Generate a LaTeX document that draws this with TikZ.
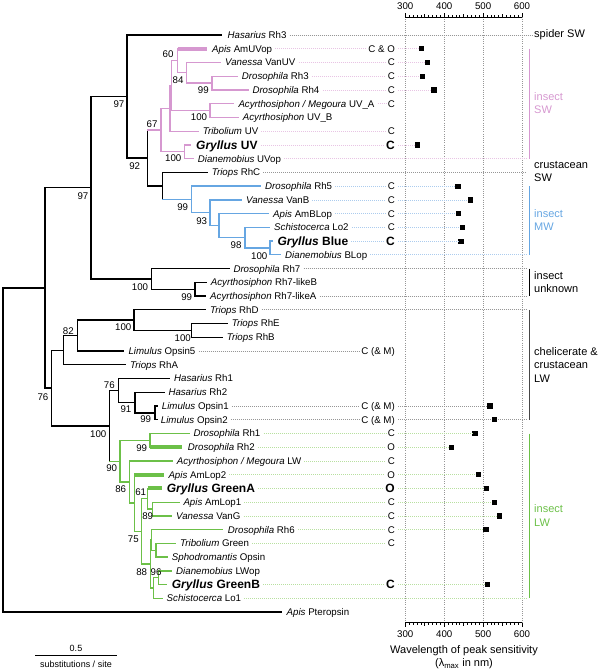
\documentclass[tikz,border=0pt]{standalone}
\usepackage{fontspec}
\setmainfont{Liberation Sans}
\definecolor{pinkC}{RGB}{214,152,208}
\definecolor{pinkL}{RGB}{232,196,228}
\definecolor{blueC}{RGB}{102,166,226}
\definecolor{blueL}{RGB}{172,204,238}
\definecolor{greenC}{RGB}{108,192,72}
\definecolor{greenL}{RGB}{184,224,160}
\definecolor{grayL}{RGB}{150,150,150}
\definecolor{chelC}{RGB}{70,70,70}
\newcommand\tvb[4][black]{\draw[tree,#1] (#2 |- #3) -- (#2 |- #4);}
\newcommand\thb[3][black]{\draw[tree,#1] (#2 |- #3) -- (#3);}
\newcommand\thf[3][black]{\draw[fat,#1] (#2 |- #3) -- (#3);}
\begin{document}
\begin{tikzpicture}[x=1pt,y=-1pt,
  tree/.style={line width=1.35pt,line cap=rect},
  fat/.style={line width=4pt,line cap=butt},
  lab/.style={font=\fontsize{9.7}{11}\selectfont,inner sep=0pt,text height=6.95pt,text depth=0pt,anchor=west},
  blab/.style={font=\fontsize{12}{14}\selectfont\bfseries,inner sep=0pt,text height=8.6pt,text depth=0pt,anchor=west},
  bs/.style={font=\fontsize{9.7}{11}\selectfont,inner sep=0pt,text height=6.95pt,text depth=0pt},
  cc/.style={lab,anchor=east},
  ccb/.style={blab,anchor=east},
  lead/.style={line width=0.75pt,dash pattern=on 0.75pt off 1.25pt},
  sq/.style={fill=black,inner sep=0pt,minimum size=5.2pt,rectangle},
  gridl/.style={grayL,line width=0.6pt,dash pattern=on 0.7pt off 1.5pt},
  brk/.style={line width=1.3pt},
  grp/.style={font=\fontsize{11}{13.3}\selectfont,align=left,anchor=west,inner sep=0pt},
  axl/.style={line width=0.8pt},
  axt/.style={font=\fontsize{9.7}{11}\selectfont,inner sep=0pt,text height=6.95pt,text depth=0pt},
]
\useasboundingbox (0,0) rectangle (600,672);

% ---------------- grid and axes ----------------
\foreach \v in {0,1,2,3}{
  \draw[gridl] ({405.3+38.9*\v},17) -- ({405.3+38.9*\v},622.7);
}
\draw[axl] (405.3,17) -- (522,17);
\draw[axl] (405.3,622.7) -- (522,622.7);
\foreach \v in {0,...,30}{
  \pgfmathsetmacro\th{ifthenelse(mod(\v,10)==0,4.5,ifthenelse(mod(\v,5)==0,3.5,2.5))}
  \draw[line width=0.6pt] ({405.3+3.89*\v},17) -- ++(0,-\th);
  \draw[line width=0.6pt] ({405.3+3.89*\v},622.7) -- ++(0,\th);
}
\foreach \v/\t in {0/300,1/400,2/500,3/600}{
  \node[axt] (top\t) at ({405.3+38.9*\v},6) {\t};
  \node[axt] (bot\t) at ({405.3+38.9*\v},634) {\t};
}
\node[font=\fontsize{11}{13}\selectfont,inner sep=0pt] (xtitle) at (464,651) {Wavelength of peak sensitivity};
\node[font=\fontsize{11}{13}\selectfont,inner sep=0pt] (xunit) at (464,664) {(λ\textsubscript{max} in nm)};

% scale bar
\coordinate (sbA) at (35,655);
\coordinate (sbB) at (117,655);
\draw[line width=1pt] (sbA) -- (sbB);
\node[font=\fontsize{9}{10}\selectfont,inner sep=0pt] (sbv) at (76,648) {0.5};
\node[font=\fontsize{9}{10}\selectfont,inner sep=0pt] (sbt) at (76,664) {substitutions / site};

% ---------------- internal nodes ----------------
\coordinate (r) at (3,450);
\coordinate (n45) at (45,287.9);
\coordinate (n91) at (91,187.7);
\coordinate (n97) at (127,96.5);
\coordinate (n92) at (147.7,158.0);
\coordinate (n67) at (161,130.1);
\coordinate (nA) at (170,108.45);
\coordinate (nB) at (171.5,85.7);
\coordinate (n60) at (177.7,60.8);
\coordinate (n84) at (186.7,72.8);
\coordinate (n99a) at (212,83.1);
\coordinate (n100a) at (210,110.55);
\coordinate (nGUV) at (184.3,151.8);
\coordinate (nRhC) at (162.3,185.9);
\coordinate (n99b) at (191.7,199.4);
\coordinate (n93) at (210,212.8);
\coordinate (nAB) at (219,225.6);
\coordinate (n98) at (245,237.7);
\coordinate (n100c) at (270,248.0);
\coordinate (n100d) at (151.7,278.9);
\coordinate (n99c) at (195,289.2);
\coordinate (n52) at (51.7,388.0);
\coordinate (nTA) at (63.3,350.2);
\coordinate (n82) at (77.3,335.6);
\coordinate (n100e) at (134,320.1);
\coordinate (n100f) at (191.7,330.4);
\coordinate (n100g) at (109.3,425.9);
\coordinate (n76) at (118.3,390.5);
\coordinate (n91b) at (135,402.5);
\coordinate (n99d) at (155,412.9);
\coordinate (n90) at (120,461.2);
\coordinate (n99e) at (150,440.35);
\coordinate (n86) at (129.3,482);
\coordinate (nY) at (134.3,503);
\coordinate (n75) at (141.7,531.4);
\coordinate (n61) at (147.7,498.7);
\coordinate (n89) at (152.3,509.05);
\coordinate (n88) at (150.7,564);
\coordinate (nR6) at (151.7,540);
\coordinate (nTS) at (156,550.3);
\coordinate (nS) at (153.3,588);
\coordinate (n96) at (158.3,577.8);

% ---------------- leaves: tips and labels ----------------
\coordinate (t1) at (221.7,35.0);   \node[lab] (l1) at (227.5,35.0) {\textit{Hasarius} Rh3};
\coordinate (t2) at (207.3,48.7);   \node[lab] (l2) at (212,48.7) {\textit{Apis} AmUVop};
\coordinate (t3) at (220.7,62.5);   \node[lab] (l3) at (225,62.5) {\textit{Vanessa} VanUV};
\coordinate (t4) at (237.5,76.2);   \node[lab] (l4) at (241.7,76.2) {\textit{Drosophila} Rh3};
\coordinate (t5) at (248,90.0);     \node[lab] (l5) at (252.3,90.0) {\textit{Drosophila} Rh4};
\coordinate (t6) at (233.5,103.7);  \node[lab] (l6) at (238.3,103.7) {\textit{Acyrthosiphon / Megoura} UV\_A};
\coordinate (t7) at (238.3,117.4);  \node[lab] (l7) at (242.7,117.4) {\textit{Acyrthosiphon} UV\_B};
\coordinate (t8) at (198.5,131.2);  \node[lab] (l8) at (202.7,131.2) {\textit{Tribolium} UV};
\coordinate (t9) at (190.5,144.9);  \node[blab] (l9) at (196,144.9) {\textit{Gryllus} UV};
\coordinate (t10) at (193.3,158.7); \node[lab] (l10) at (197.7,158.7) {\textit{Dianemobius} UVop};
\coordinate (t11) at (207.3,172.4); \node[lab] (l11) at (211.7,172.4) {\textit{Triops} RhC};
\coordinate (t12) at (260.5,186.1); \node[lab] (l12) at (265,186.1) {\textit{Drosophila} Rh5};
\coordinate (t13) at (241.5,199.9); \node[lab] (l13) at (246,199.9) {\textit{Vanessa} VanB};
\coordinate (t14) at (268.5,213.6); \node[lab] (l14) at (273,213.6) {\textit{Apis} AmBLop};
\coordinate (t15) at (269.5,227.4); \node[lab] (l15) at (274,227.4) {\textit{Schistocerca} Lo2};
\coordinate (t16) at (272.5,241.1); \node[blab] (l16) at (277.3,241.1) {\textit{Gryllus} Blue};
\coordinate (t17) at (280.5,254.8); \node[lab] (l17) at (285,254.8) {\textit{Dianemobius} BLop};
\coordinate (t18) at (229,268.6);   \node[lab] (l18) at (233.3,268.6) {\textit{Drosophila} Rh7};
\coordinate (t19) at (206.3,282.3); \node[lab] (l19) at (210.7,282.3) {\textit{Acyrthosiphon} Rh7-likeB};
\coordinate (t20) at (205.5,296.1); \node[lab] (l20) at (210,296.1) {\textit{Acyrthosiphon} Rh7-likeA};
\coordinate (t21) at (205.5,309.8); \node[lab] (l21) at (210,309.8) {\textit{Triops} RhD};
\coordinate (t22) at (227.3,323.5); \node[lab] (l22) at (231.7,323.5) {\textit{Triops} RhE};
\coordinate (t23) at (222.3,337.3); \node[lab] (l23) at (226.7,337.3) {\textit{Triops} RhB};
\coordinate (t24) at (123.8,351.0); \node[lab] (l24) at (128.3,351.0) {\textit{Limulus} Opsin5};
\coordinate (t25) at (125.5,364.8); \node[lab] (l25) at (130,364.8) {\textit{Triops} RhA};
\coordinate (t26) at (169.5,378.5); \node[lab] (l26) at (174,378.5) {\textit{Hasarius} Rh1};
\coordinate (t27) at (164,392.2);   \node[lab] (l27) at (168.3,392.2) {\textit{Hasarius} Rh2};
\coordinate (t28) at (157.5,406.0); \node[lab] (l28) at (161.7,406.0) {\textit{Limulus} Opsin1};
\coordinate (t29) at (157.5,419.7); \node[lab] (l29) at (160.7,419.7) {\textit{Limulus} Opsin2};
\coordinate (t30) at (189,433.5);   \node[lab] (l30) at (193.3,433.5) {\textit{Drosophila} Rh1};
\coordinate (t31) at (182,447.2);   \node[lab] (l31) at (187.7,447.2) {\textit{Drosophila} Rh2};
\coordinate (t32) at (172.5,460.9); \node[lab] (l32) at (176.7,460.9) {\textit{Acyrthosiphon / Megoura} LW};
\coordinate (t33) at (163.5,474.7); \node[lab] (l33) at (168.3,474.7) {\textit{Apis} AmLop2};
\coordinate (t34) at (161.7,488.4); \node[blab] (l34) at (166.7,488.4) {\textit{Gryllus} GreenA};
\coordinate (t35) at (179,502.2);   \node[lab] (l35) at (183.3,502.2) {\textit{Apis} AmLop1};
\coordinate (t36) at (171.7,515.9); \node[lab] (l36) at (176,515.9) {\textit{Vanessa} VanG};
\coordinate (t37) at (222.7,529.6); \node[lab] (l37) at (227.7,529.6) {\textit{Drosophila} Rh6};
\coordinate (t38) at (175.5,543.4); \node[lab] (l38) at (180,543.4) {\textit{Tribolium} Green};
\coordinate (t39) at (167,557.1);   \node[lab] (l39) at (171.7,557.1) {\textit{Sphodromantis} Opsin};
\coordinate (t40) at (171.5,570.9); \node[lab] (l40) at (176,570.9) {\textit{Dianemobius} LWop};
\coordinate (t41) at (166.5,584.6); \node[blab] (l41) at (171.7,584.6) {\textit{Gryllus} GreenB};
\coordinate (t42) at (162,598.3);   \node[lab] (l42) at (166.5,598.3) {\textit{Schistocerca} Lo1};
\coordinate (t43) at (281,612.1);   \node[lab] (l43) at (286.5,612.1) {\textit{Apis} Pteropsin};

% ---------------- tree branches ----------------
\tvb{r}{n45}{t43} \thb{r}{n45} \thb{r}{t43}
\tvb{n45}{n91}{n52} \thb{n45}{n91} \thb{n45}{n52}
\tvb{n91}{n97}{n100d} \thb{n91}{n97} \thb{n91}{n100d}
\tvb{n97}{t1}{n92} \thb{n97}{t1} \thb{n97}{n92}
\tvb{n92}{n67}{nRhC} \thb[pinkC]{n92}{n67} \thb{n92}{nRhC}
\tvb[pinkC]{n67}{nA}{nGUV} \thb[pinkC]{n67}{nA} \thb[pinkC]{n67}{nGUV}
\tvb[pinkC]{nA}{nB}{t8} \thb[pinkC]{nA}{nB} \thb[pinkC]{nA}{t8}
\tvb[pinkC]{nB}{n60}{n100a} \thb[pinkC]{nB}{n60} \thb[pinkC]{nB}{n100a}
\tvb[pinkC]{n60}{t2}{n84} \thf[pinkC]{n60}{t2} \thb[pinkC]{n60}{n84}
\tvb[pinkC]{n84}{t3}{n99a} \thb[pinkC]{n84}{t3} \thb[pinkC]{n84}{n99a}
\tvb[pinkC]{n99a}{t4}{t5} \thb[pinkC]{n99a}{t4} \thb[pinkC]{n99a}{t5}
\tvb[pinkC]{n100a}{t6}{t7} \thb[pinkC]{n100a}{t6} \thb[pinkC]{n100a}{t7}
\tvb[pinkC]{nGUV}{t9}{t10} \thb[pinkC]{nGUV}{t9} \thb[pinkC]{nGUV}{t10}
\tvb{nRhC}{t11}{n99b} \thb{nRhC}{t11} \thb[blueC]{nRhC}{n99b}
\tvb[blueC]{n99b}{t12}{n93} \thb[blueC]{n99b}{t12} \thb[blueC]{n99b}{n93}
\tvb[blueC]{n93}{t13}{nAB} \thb[blueC]{n93}{t13} \thb[blueC]{n93}{nAB}
\tvb[blueC]{nAB}{t14}{n98} \thb[blueC]{nAB}{t14} \thb[blueC]{nAB}{n98}
\tvb[blueC]{n98}{t15}{n100c} \thb[blueC]{n98}{t15} \thb[blueC]{n98}{n100c}
\tvb[blueC]{n100c}{t16}{t17} \thb[blueC]{n100c}{t16} \thb[blueC]{n100c}{t17}
\tvb{n100d}{t18}{n99c} \thb{n100d}{t18} \thb{n100d}{n99c}
\tvb{n99c}{t19}{t20} \thb{n99c}{t19} \thb{n99c}{t20}
\tvb{n52}{nTA}{n100g} \thb{n52}{nTA} \thb{n52}{n100g}
\tvb{nTA}{n82}{t25} \thb{nTA}{n82} \thb{nTA}{t25}
\tvb{n82}{n100e}{t24} \thb{n82}{n100e} \thb{n82}{t24}
\tvb{n100e}{t21}{n100f} \thb{n100e}{t21} \thb{n100e}{n100f}
\tvb{n100f}{t22}{t23} \thb{n100f}{t22} \thb{n100f}{t23}
\tvb{n100g}{n76}{n90} \thb{n100g}{n76} \thb[greenC]{n100g}{n90}
\tvb{n76}{t26}{n91b} \thb{n76}{t26} \thb{n76}{n91b}
\tvb{n91b}{t27}{n99d} \thb{n91b}{t27} \thb{n91b}{n99d}
\tvb{n99d}{t28}{t29} \thb{n99d}{t28} \thb{n99d}{t29}
\tvb[greenC]{n90}{n99e}{n86} \thb[greenC]{n90}{n99e} \thb[greenC]{n90}{n86}
\tvb[greenC]{n99e}{t30}{t31} \thb[greenC]{n99e}{t30} \thf[greenC]{n99e}{t31}
\tvb[greenC]{n86}{t32}{nY} \thb[greenC]{n86}{t32} \thb[greenC]{n86}{nY}
\tvb[greenC]{nY}{t33}{n75} \thf[greenC]{nY}{t33} \thb[greenC]{nY}{n75}
\tvb[greenC]{n75}{n61}{n88} \thb[greenC]{n75}{n61} \thb[greenC]{n75}{n88}
\tvb[greenC]{n61}{t34}{n89} \thf[greenC]{n61}{t34} \thb[greenC]{n61}{n89}
\tvb[greenC]{n89}{t35}{t36} \thb[greenC]{n89}{t35} \thb[greenC]{n89}{t36}
\tvb[greenC]{n88}{nR6}{nS} \thb[greenC]{n88}{nR6} \thb[greenC]{n88}{nS}
\tvb[greenC]{nR6}{t37}{nTS} \thb[greenC]{nR6}{t37} \thb[greenC]{nR6}{nTS}
\tvb[greenC]{nTS}{t38}{t39} \thb[greenC]{nTS}{t38} \thb[greenC]{nTS}{t39}
\tvb[greenC]{nS}{n96}{t42} \thb[greenC]{nS}{n96} \thb[greenC]{nS}{t42}
\tvb[greenC]{n96}{t40}{t41} \thb[greenC]{n96}{t40} \thb[greenC]{n96}{t41}

% ---------------- bootstrap values ----------------
\node[bs] (b97a) at (119,104) {97};
\node[bs] (b60) at (168,54) {60};
\node[bs] (b84) at (178,80) {84};
\node[bs] (b99a) at (203.3,90) {99};
\node[bs] (b100a) at (199,117.3) {100};
\node[bs] (b67) at (152,124) {67};
\node[bs] (b100b) at (173.3,158.3) {100};
\node[bs] (b92) at (134.7,165.7) {92};
\node[bs] (b97b) at (83,196) {97};
\node[bs] (b99b) at (182.7,207.3) {99};
\node[bs] (b93) at (201.7,221) {93};
\node[bs] (b98) at (236,245) {98};
\node[bs] (b100c) at (259.3,255.7) {100};
\node[bs] (b100d) at (140,287.3) {100};
\node[bs] (b99c) at (186.7,296.7) {99};
\node[bs] (b100e) at (123.3,327) {100};
\node[bs] (b100f) at (182.7,338) {100};
\node[bs] (b82) at (68.3,331) {82};
\node[bs] (b76a) at (109.3,385) {76};
\node[bs] (b91) at (126,409.3) {91};
\node[bs] (b99d) at (145.7,419.3) {99};
\node[bs] (b76b) at (43,397) {76};
\node[bs] (b100g) at (98.3,434) {100};
\node[bs] (b99e) at (141.7,448.3) {99};
\node[bs] (b90) at (111.7,468.3) {90};
\node[bs] (b86) at (120.7,489.3) {86};
\node[bs] (b61) at (140.7,492.3) {61};
\node[bs] (b89) at (147.7,516) {89};
\node[bs] (b75) at (133.3,539.3) {75};
\node[bs] (b88) at (141.7,571.7) {88};
\node[bs] (b96) at (156,571.7) {96};

% ---------------- C / O column ----------------
\node[cc] (c2) at (395,48.7) {C \& O};
\node[cc] (c3) at (395,62.5) {C};
\node[cc] (c4) at (395,76.2) {C};
\node[cc] (c5) at (395,90.0) {C};
\node[cc] (c6) at (395,103.7) {C};
\node[cc] (c8) at (395,131.2) {C};
\node[ccb] (c9) at (395,144.9) {C};
\node[cc] (c12) at (395,186.1) {C};
\node[cc] (c13) at (395,199.9) {C};
\node[cc] (c14) at (395,213.6) {C};
\node[cc] (c15) at (395,227.4) {C};
\node[ccb] (c16) at (395,241.1) {C};
\node[cc] (c24) at (395,351.0) {C (\& M)};
\node[cc] (c28) at (395,406.0) {C (\& M)};
\node[cc] (c29) at (395,419.7) {C (\& M)};
\node[cc] (c30) at (395,433.5) {C};
\node[cc] (c31) at (395,447.2) {O};
\node[cc] (c32) at (395,460.9) {C};
\node[cc] (c33) at (395,474.7) {O};
\node[ccb] (c34) at (395,488.4) {O};
\node[cc] (c35) at (395,502.2) {C};
\node[cc] (c36) at (395,515.9) {C};
\node[cc] (c37) at (395,529.6) {C};
\node[cc] (c38) at (395,543.4) {C};
\node[ccb] (c41) at (395,584.6) {C};

% ---------------- group labels and brackets ----------------
\node[grp] (gspider) at (534,35) {spider SW};
\node[grp,pinkC] (gisw) at (534,103.4) {insect\\SW};
\node[grp] (gcsw) at (534,171.7) {crustacean\\SW};
\node[grp,blueC] (gimw) at (534,220) {insect\\MW};
\node[grp] (giun) at (534,282.2) {insect\\unknown};
\node[grp] (gclw) at (534,365) {chelicerate \&\\crustacean\\LW};
\node[grp,greenC] (gilw) at (534,515.5) {insect\\LW};
\draw[brk,pinkC] (529.3,48.7) -- (529.3,158.7);
\draw[brk,blueC] (529.3,186.1) -- (529.3,254.8);
\draw[brk,black] (529.3,268.6) -- (529.3,296.1);
\draw[brk,chelC] (529.3,309.8) -- (529.3,419.7);
\draw[brk,greenC] (529.3,433.5) -- (529.3,598.3);

% ---------------- leaders ----------------
\coordinate (e10) at (527,158.7);
\coordinate (e11) at (527,172.4);
\coordinate (e17) at (527,254.8);
\coordinate (e18) at (527,268.6);
\coordinate (e20) at (527,296.1);
\coordinate (e21) at (527,309.8);
\coordinate (e29) at (527,419.7);
\coordinate (e42) at (527,598.3);
\draw[lead,grayL] ([xshift=3pt]l1.east) -- ([xshift=-2pt]gspider.west);
\foreach \i in {2,3,4,5,6,8,9}{\draw[lead,pinkL] ([xshift=3pt]l\i.east) -- ([xshift=-2pt]c\i.west);}
\foreach \i in {12,13,14,15,16}{\draw[lead,blueL] ([xshift=3pt]l\i.east) -- ([xshift=-2pt]c\i.west);}
\foreach \i in {24,28,29}{\draw[lead,grayL] ([xshift=3pt]l\i.east) -- ([xshift=-2pt]c\i.west);}
\foreach \i in {30,31,32,33,34,35,36,37,38,41}{\draw[lead,greenL] ([xshift=3pt]l\i.east) -- ([xshift=-2pt]c\i.west);}
\draw[lead,pinkL] ([xshift=3pt]l10.east) -- (e10);
\draw[lead,grayL] ([xshift=3pt]l11.east) -- (e11);
\draw[lead,blueL] ([xshift=3pt]l17.east) -- (e17);
\draw[lead,grayL] ([xshift=3pt]l18.east) -- (e18);
\draw[lead,grayL] ([xshift=3pt]l20.east) -- (e20);
\draw[lead,grayL] ([xshift=3pt]l21.east) -- (e21);
\draw[lead,grayL] ([xshift=3pt]c29.east) -- (e29);
\draw[lead,greenL] ([xshift=3pt]l42.east) -- (e42);

% ---------------- squares (lambda max) ----------------
\foreach \i/\x/\col in {2/421.7/pinkL,3/427.7/pinkL,4/422.3/pinkL,5/434/pinkL,9/417.7/pinkL,
  12/458/blueL,13/470.7/blueL,14/458.3/blueL,15/462.7/blueL,16/461/blueL,
  28/490/grayL,
  30/475/greenL,31/451.7/greenL,33/478.7/greenL,34/486.7/greenL,35/494.3/greenL,36/499.7/greenL,37/486/greenL,41/487.7/greenL}{
  \path (c\i.east) coordinate (cy\i);
  \node[sq] (s\i) at (\x,0 |- cy\i) {};
  \draw[lead,\col] ([xshift=3pt]c\i.east) -- (s\i.west);
}
\node[sq] (s29) at (494.3,419.7) {};
\end{tikzpicture}
\end{document}
